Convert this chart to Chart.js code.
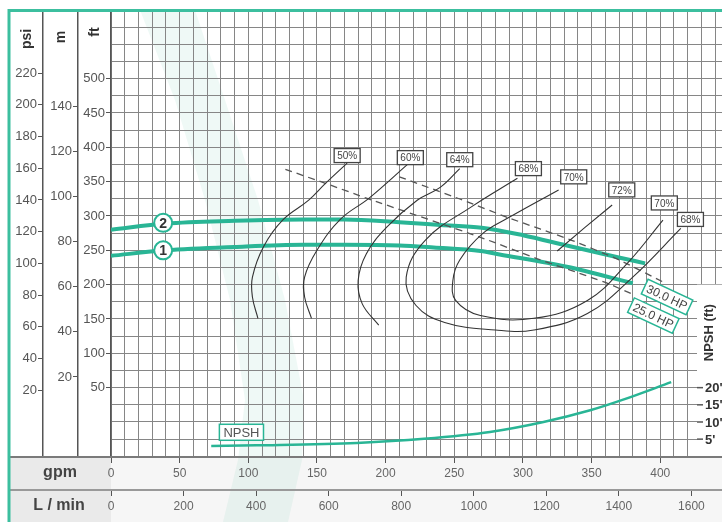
<!DOCTYPE html>
<html>
<head>
<meta charset="utf-8">
<script src="https://cdn.jsdelivr.net/npm/chart.js@4/dist/chart.umd.min.js"></script>
<style>
  html, body { margin: 0; padding: 0; background: #fff; }
  canvas { display: block; }
</style>
</head>
<body>
<canvas id="pump" width="722" height="522"></canvas>
<script>
// flow in gpm, head in ft (NPSH in ft on its own scale)
const curve2 = [[0,280],[40,289],[90,293],[140,295],[170,295],[210,291],[240,287],[270,283],[300,272],[332,257],[369,240],[389,231]];
const curve1 = [[0,242],[40,250],[90,255],[140,258],[170,258],[210,257],[235,254],[269,249],[283,244],[332,226],[380,202]];
const hp30 = [[210,357],[255,324],[290,297],[335,265],[370,236],[402,204]];
const hp25 = [[127,368],[157,347],[186,326],[269,269],[310,238],[359,204],[380,186]];
const eff50 = [[172,377],[156,347],[144,323],[125,294],[111,255],[103,211],[103,182],[107,151]];
const eff60 = [[217,377],[188,326],[167,295],[150,250],[141,211],[141,182],[146,151]];
const eff64 = [[254,369],[240,342],[223,323],[201,284],[186,245],[180,206],[183,172],[195,141]];
const eff68 = [[296,355],[263,314],[229,265],[215,211],[222,170],[243,145],[280,134],[308,134],[347,158],[380,211],[415,282]];
const eff70 = [[326,338],[289,297],[271,275],[254,236],[249,206],[251,177],[269,155],[308,151],[347,177],[376,231],[402,294]];
const eff72 = [[365,316],[345,283],[325,249]];
const npsh = [[73,3.0],[106,3.2],[179,3.9],[228,5.1],[276,7.1],[315,10],[349,13.4],[373,16.5],[408,21.6]];

// text labels: [text, gpm, ft]
const effLabels = [['50%',172,388],['60%',218,385],['64%',254,382],['68%',304,369],['70%',337,357],['72%',372,338],['70%',403,319],['68%',422,295]];
const hpLabels = [['30.0 HP',405,182],['25.0 HP',395,155]];
const curveTags = [['2',38,290],['1',38,250]];
const npshTicks = [5,10,15,20];

const FT_MIN = -51, FT_MAX = 600, GPM_MAX = 445;
const FT_PER_PSI = 2.31, M_PER_FT = 0.3048, LPM_PER_GPM = 3.785;

const teal = '#29b595';
const gridGray = '#868686';
const font = "'Liberation Sans', Arial, sans-serif";
const tickFont = { family: font, size: 13 };

const pts = arr => arr.map(p => ({ x: p[0], y: p[1] }));
const hidden = 'rgba(0,0,0,0)';

function line(arr, color, width, opts) {
  return Object.assign({
    data: pts(arr), borderColor: color, borderWidth: width, pointRadius: 0,
    fill: false, tension: 0.4, xAxisID: 'x', yAxisID: 'y'
  }, opts || {});
}

function sideAxis(min, max, step, lo, hi, weight, width) {
  const shown = v => v >= lo && v <= hi;
  return {
    type: 'linear', position: 'left', weight: weight, min: min, max: max,
    border: { display: true, color: '#555', width: 1.5 },
    grid: { drawOnChartArea: false, tickLength: 5, tickColor: c => (c.tick && shown(c.tick.value)) ? '#555' : hidden },
    ticks: { stepSize: step, includeBounds: false, autoSkip: false, padding: 1, color: '#555', font: tickFont,
      callback: v => shown(v) ? v : '' },
    afterFit: s => { s.width = width; s.paddingTop = 0; s.paddingBottom = 0; }
  };
}

const ftAxis = sideAxis(FT_MIN, FT_MAX, 25, 50, 500, 0, 33);
ftAxis.grid.drawOnChartArea = true;
ftAxis.grid.color = gridGray;
const ftShown = v => v % 50 === 0 && v >= 50 && v <= 500;
ftAxis.grid.tickColor = c => (c.tick && ftShown(c.tick.value)) ? '#555' : hidden;
ftAxis.ticks.callback = v => ftShown(v) ? v : '';

const decor = {
  id: 'decor',
  beforeDraw(chart) {
    const c = chart.ctx, W = chart.width, H = chart.height;
    const a = chart.chartArea;
    c.save();
    c.fillStyle = '#fff';
    c.fillRect(0, 0, W, H);
    // bottom rows
    c.fillStyle = '#f6f6f6';
    c.fillRect(10, a.bottom, W - 10, H - a.bottom);
    c.fillStyle = '#eaeaea';
    c.fillRect(10, a.bottom, a.left - 10, H - a.bottom);
    // faint watermark swoosh
    const leftEdge = [[140,10],[175,100],[205,200],[230,300],[245,400],[238,460],[223,522]];
    const rightEdge = [[195,10],[225,100],[258,200],[285,300],[304,400],[302,460],[288,522]];
    c.beginPath();
    leftEdge.forEach((p, i) => i ? c.lineTo(p[0], p[1]) : c.moveTo(p[0], p[1]));
    rightEdge.slice().reverse().forEach(p => c.lineTo(p[0], p[1]));
    c.closePath();
    c.fillStyle = 'rgba(120, 205, 180, 0.12)';
    c.fill();
    c.restore();
  },
  beforeDatasetsDraw(chart) {
    const c = chart.ctx, a = chart.chartArea;
    const y = chart.scales.y, yn = chart.scales.yn;
    const bx = a.right - 25, by = y.getPixelForValue(200);
    c.save();
    c.fillStyle = '#fff';
    c.fillRect(bx, by, a.right - bx, a.bottom - by);
    c.strokeStyle = '#555';
    c.lineWidth = 1.5;
    c.fillStyle = '#333';
    c.font = 'bold 13px ' + font;
    c.textAlign = 'left';
    c.textBaseline = 'middle';
    npshTicks.forEach(v => {
      const py = yn.getPixelForValue(v);
      c.beginPath(); c.moveTo(bx, py); c.lineTo(bx + 6, py); c.stroke();
      c.fillText(v + "'", bx + 8, py + 1);
    });
    c.translate(bx + 12, y.getPixelForValue(130));
    c.rotate(-Math.PI / 2);
    c.textAlign = 'center';
    c.fillText('NPSH (ft)', 0, 0);
    c.restore();
  },
  afterDatasetsDraw(chart) {
    const c = chart.ctx, x = chart.scales.x, y = chart.scales.y, yn = chart.scales.yn;
    const box = (text, cx, cy, o) => {
      c.save();
      c.translate(cx, cy);
      if (o.angle) c.rotate(o.angle * Math.PI / 180);
      c.font = o.font;
      const w = c.measureText(text).width + o.padX * 2, h = o.h;
      c.fillStyle = '#fff';
      c.fillRect(-w / 2, -h / 2, w, h);
      c.strokeStyle = o.stroke;
      c.lineWidth = o.lw;
      c.strokeRect(-w / 2, -h / 2, w, h);
      c.fillStyle = o.color;
      c.textAlign = 'center';
      c.textBaseline = 'middle';
      c.fillText(text, 0, 1);
      c.restore();
    };
    effLabels.forEach(l => box(l[0], x.getPixelForValue(l[1]), y.getPixelForValue(l[2]),
      { font: '10px ' + font, padX: 3, h: 14, stroke: '#444', lw: 1.3, color: '#444' }));
    hpLabels.forEach(l => box(l[0], x.getPixelForValue(l[1]), y.getPixelForValue(l[2]),
      { font: '12px ' + font, padX: 3, h: 16, stroke: teal, lw: 1.5, color: '#444', angle: 25 }));
    box('NPSH', x.getPixelForValue(95), yn.getPixelForValue(7),
      { font: '13px ' + font, padX: 4, h: 16, stroke: teal, lw: 1.5, color: '#555' });
    curveTags.forEach(t => {
      const px = x.getPixelForValue(t[1]), py = y.getPixelForValue(t[2]);
      c.save();
      c.beginPath();
      c.arc(px, py, 9, 0, Math.PI * 2);
      c.fillStyle = '#fff';
      c.fill();
      c.strokeStyle = teal;
      c.lineWidth = 2;
      c.stroke();
      c.fillStyle = '#333';
      c.font = 'bold 14px ' + font;
      c.textAlign = 'center';
      c.textBaseline = 'middle';
      c.fillText(t[0], px, py + 1);
      c.restore();
    });
  },
  afterDraw(chart) {
    const c = chart.ctx, W = chart.width, H = chart.height, a = chart.chartArea;
    const xl = chart.scales.xl;
    c.save();
    // row lines
    c.strokeStyle = '#7a7a7a';
    c.lineWidth = 2;
    c.beginPath(); c.moveTo(10, a.bottom); c.lineTo(W, a.bottom); c.stroke();
    c.strokeStyle = '#999';
    c.beginPath(); c.moveTo(10, xl.top); c.lineTo(W, xl.top); c.stroke();
    // row captions
    c.fillStyle = '#444';
    c.font = 'bold 16px ' + font;
    c.textAlign = 'center';
    c.textBaseline = 'middle';
    c.fillText('gpm', 60, (a.bottom + xl.top) / 2 - 1);
    c.fillText('L / min', 59, (xl.top + H) / 2);
    // column headers
    c.font = 'bold 14px ' + font;
    c.fillStyle = '#333';
    [['psi', chart.scales.yp, 39], ['m', chart.scales.ym, 37], ['ft', chart.scales.y, 32]].forEach(h => {
      c.save();
      c.translate((h[1].left + h[1].right) / 2 + 1, h[2]);
      c.rotate(-Math.PI / 2);
      c.fillText(h[0], 0, 0);
      c.restore();
    });
    // teal frame
    c.strokeStyle = '#3cbf9f';
    c.lineWidth = 3;
    c.beginPath(); c.moveTo(9, H); c.lineTo(9, 10.5); c.lineTo(W, 10.5); c.stroke();
    c.restore();
  }
};

new Chart(document.getElementById('pump'), {
  type: 'line',
  data: {
    datasets: [
      line(eff50, '#333', 1.1),
      line(eff60, '#333', 1.1),
      line(eff64, '#333', 1.1),
      line(eff68, '#333', 1.1),
      line(eff70, '#333', 1.1),
      line(eff72, '#333', 1.1, { tension: 0 }),
      line(hp30, '#555', 1.3, { borderDash: [7, 5], tension: 0.2 }),
      line(hp25, '#555', 1.3, { borderDash: [7, 5], tension: 0.2 }),
      line(curve2, teal, 4, { cubicInterpolationMode: 'monotone' }),
      line(curve1, teal, 4, { cubicInterpolationMode: 'monotone' }),
      line(npsh, teal, 2.5, { cubicInterpolationMode: 'monotone', yAxisID: 'yn' })
    ]
  },
  options: {
    responsive: false,
    animation: false,
    devicePixelRatio: 1,
    layout: { padding: { left: 10, top: 10, right: 0, bottom: 0 } },
    plugins: { legend: { display: false }, tooltip: { enabled: false } },
    events: [],
    scales: {
      x: {
        type: 'linear', position: 'bottom', weight: 0, min: 0, max: GPM_MAX,
        border: { display: false },
        grid: { color: gridGray, tickLength: 6, tickColor: c => (c.tick && c.tick.value % 50 === 0 && c.tick.value <= 400) ? '#555' : hidden },
        ticks: { stepSize: 10, includeBounds: false, autoSkip: false, maxRotation: 0, padding: 3, color: '#666', font: { family: font, size: 12 },
          callback: v => (v % 50 === 0 && v <= 400) ? String(v) : '' },
        afterFit: s => { s.height = 33; s.paddingLeft = 0; s.paddingRight = 0; }
      },
      xl: {
        type: 'linear', position: 'bottom', weight: 1, min: 0, max: GPM_MAX * LPM_PER_GPM,
        border: { display: false },
        grid: { drawOnChartArea: false, tickLength: 6, tickColor: '#555' },
        ticks: { stepSize: 200, includeBounds: false, autoSkip: false, maxRotation: 0, padding: 3, color: '#666', font: { family: font, size: 12 },
          callback: v => String(v) },
        afterFit: s => { s.height = 32; s.paddingLeft = 0; s.paddingRight = 0; }
      },
      y: ftAxis,
      ym: sideAxis(FT_MIN * M_PER_FT, FT_MAX * M_PER_FT, 20, 20, 140, 1, 35),
      yp: sideAxis(FT_MIN / FT_PER_PSI, FT_MAX / FT_PER_PSI, 20, 20, 220, 2, 33),
      yn: { type: 'linear', display: false, min: (FT_MIN + 50) / 5, max: (FT_MAX + 50) / 5 }
    }
  },
  plugins: [decor]
});
</script>
</body>
</html>
